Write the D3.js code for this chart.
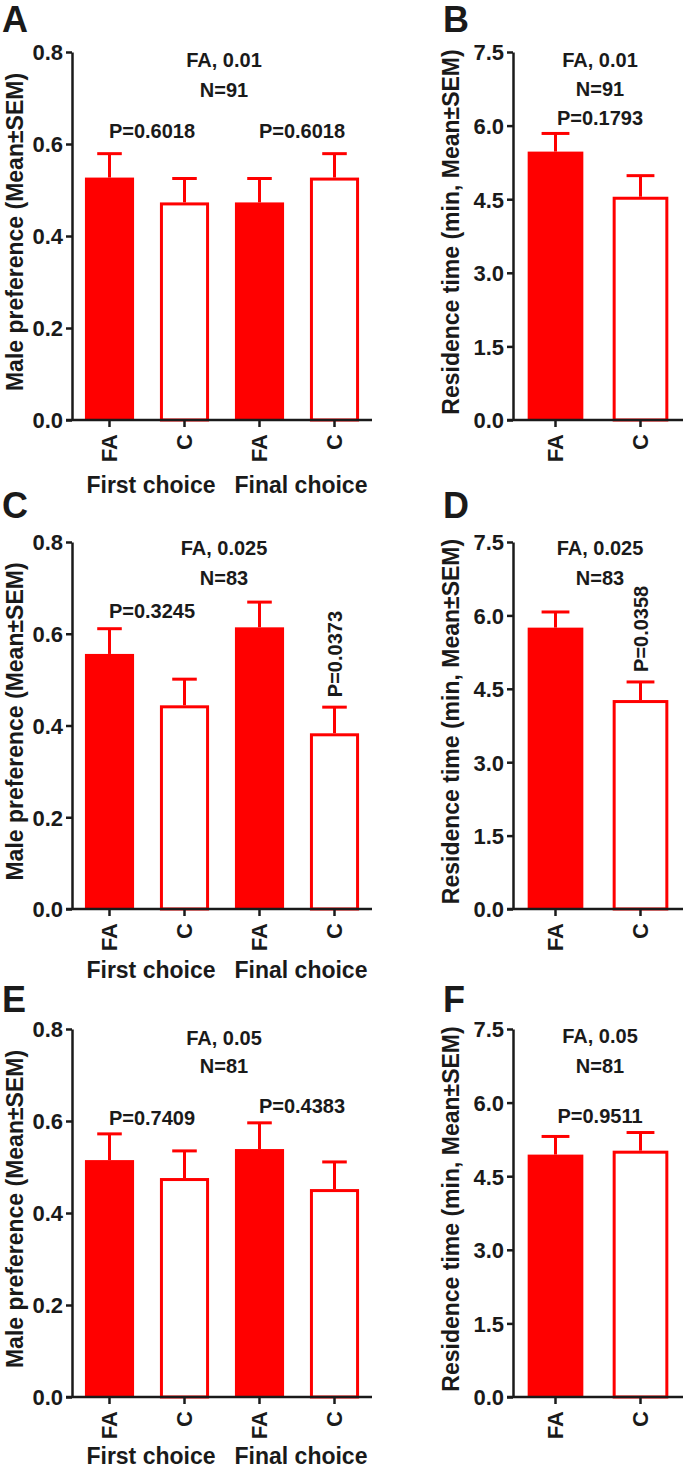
<!DOCTYPE html>
<html><head><meta charset="utf-8">
<script src="https://cdn.jsdelivr.net/npm/d3@7"></script>
<style>
body{margin:0;background:#fff;}
svg text{font-family:"Liberation Sans",Arial,sans-serif;font-weight:bold;fill:#1a1a1a;}
</style></head><body>
<svg id="chart" width="685" height="1468"></svg>
<script>
// ---------- data ----------
const prefCategories = ["FA","C","FA","C"];
const prefGroups = ["First choice","Final choice"];
const timeCategories = ["FA","C"];
const prefTicks = [0,0.2,0.4,0.6,0.8];
const timeTicks = [0,1.5,3.0,4.5,6.0,7.5];
const prefTitle = "Male preference (Mean\u00B1SEM)";
const timeTitle = "Residence time (min, Mean\u00B1SEM)";

const concLabels = ["FA, 0.01","FA, 0.025","FA, 0.05"];
const nLabels = ["N=91","N=83","N=81"];

const prefMeanA = [0.527,0.473,0.473,0.527];
const prefSemA  = [0.052,0.052,0.052,0.052];
const prefPA    = ["P=0.6018","P=0.6018"];
const timeMeanB = [5.47,4.55];
const timeSemB  = [0.37,0.43];
const timePB    = "P=0.1793";

const prefMeanC = [0.556,0.444,0.614,0.383];
const prefSemC  = [0.055,0.057,0.055,0.057];
const prefPC    = ["P=0.3245","P=0.0373"];
const timeMeanD = [5.75,4.27];
const timeSemD  = [0.32,0.37];
const timePD    = "P=0.0358";

const prefMeanE = [0.515,0.476,0.539,0.452];
const prefSemE  = [0.057,0.059,0.057,0.059];
const prefPE    = ["P=0.7409","P=0.4383"];
const timeMeanF = [4.94,5.02];
const timeSemF  = [0.37,0.37];
const timePF    = "P=0.9511";

// ---------- layout ----------
const RED = "#ff0000";
const svg = d3.select("#chart");
const rows = [{top:52,bot:420,letterY:32},{top:542,bot:909,letterY:518},{top:1029,bot:1397,letterY:1012}];

function drawPanel(o){
  const g = svg.append("g");
  const x = d3.scaleBand().domain(d3.range(o.cats.length)).range([o.x0,o.x1]).paddingInner(0.345).paddingOuter(0.1725);
  const y = d3.scaleLinear().domain([0,o.max]).range([o.row.bot,o.row.top]);
  const bw = x.bandwidth();
  // bars
  o.means.forEach((m,i)=>{
    const filled = o.cats[i]==="FA";
    const bx = x(i);
    const e = y(m+o.sems[i]);
    g.append("line").attr("x1",bx+bw/2).attr("x2",bx+bw/2).attr("y1",y(m)).attr("y2",e)
      .attr("stroke",RED).attr("stroke-width",3);
    g.append("line").attr("x1",bx+bw/4).attr("x2",bx+3*bw/4).attr("y1",e).attr("y2",e)
      .attr("stroke",RED).attr("stroke-width",3);
    if(filled){
      g.append("rect").attr("x",bx).attr("y",y(m)).attr("width",bw).attr("height",y(0)-y(m)).attr("fill",RED);
    } else {
      g.append("rect").attr("x",bx+1.5).attr("y",y(m)+1.5).attr("width",bw-3).attr("height",y(0)-y(m)-1.5)
        .attr("fill","#fff").attr("stroke",RED).attr("stroke-width",3);
    }
  });
  // y axis
  const ya = g.append("g").attr("transform",`translate(${o.x0},0)`)
    .call(d3.axisLeft(y).tickValues(o.ticks).tickFormat(d3.format(".1f")).tickSize(6).tickSizeOuter(0).tickPadding(3));
  ya.select(".domain").attr("stroke","#1a1a1a").attr("stroke-width",2.5);
  ya.selectAll(".tick line").attr("stroke","#1a1a1a").attr("stroke-width",2.5);
  ya.selectAll(".tick text").style("font-size","22px").attr("dy","0.36em").attr("fill","#1a1a1a");
  // x axis
  const xa = g.append("g").attr("transform",`translate(0,${o.row.bot})`)
    .call(d3.axisBottom(x).tickSize(7).tickSizeOuter(0).tickFormat(()=>""));
  xa.select(".domain").attr("stroke","#1a1a1a").attr("stroke-width",2.5)
    .attr("d",`M${o.x0-6},0H${o.x1}`);
  xa.selectAll(".tick line").attr("stroke","#1a1a1a").attr("stroke-width",2.5);
  o.cats.forEach((c,i)=>{
    const cx = x(i)+bw/2;
    g.append("text").attr("transform",`translate(${cx},${o.row.bot+14}) rotate(-90)`)
      .attr("text-anchor","end").attr("dy","0.36em").style("font-size","22px").text(c);
  });
  if(o.groups){
    o.groups.forEach((gl,k)=>{
      const cx = (x(2*k)+x(2*k+1)+bw)/2 + 4;
      g.append("text").attr("x",cx).attr("y",o.row.bot+o.groupDy).attr("text-anchor","middle")
        .style("font-size","23px").text(gl);
    });
  }
  // y title
  g.append("text").attr("transform",`translate(${o.titleX},${(o.row.top+o.row.bot)/2-4}) rotate(-90)`)
    .attr("text-anchor","middle").style("font-size","23px").text(o.title);
  // panel letter
  g.append("text").attr("x",o.letterX).attr("y",o.row.letterY).style("font-size","36px").text(o.letter);
  // header
  const mid = (o.x0+o.x1)/2+2;
  g.append("text").attr("x",mid).attr("y",o.row.top+o.h1).attr("text-anchor","middle").style("font-size","20px").text(o.conc);
  g.append("text").attr("x",mid).attr("y",o.row.top+o.h2).attr("text-anchor","middle").style("font-size","20px").text(o.n);
  // p labels
  o.pLabels.forEach(p=>{
    if(p.rot){
      const i = p.bar;
      const cx = x(i)+bw/2;
      const ey = y(o.means[i]+o.sems[i]) - 10;
      g.append("text").attr("transform",`translate(${cx},${ey}) rotate(-90)`)
        .attr("text-anchor","start").attr("dy","0.36em").style("font-size","20px").text(p.text);
    } else {
      const a = p.bars[0], b = p.bars[p.bars.length-1];
      const cx = (x(a)+x(b)+bw)/2 + (o.groups?5:2);
      g.append("text").attr("x",cx).attr("y",o.row.top+p.dy).attr("text-anchor","middle").style("font-size","20px").text(p.text);
    }
  });
}

const L = {x0:72,x1:372,titleX:23,letterX:2};
const R = {x0:513,x1:683,titleX:459,letterX:443};

drawPanel({...L,row:rows[0],cats:prefCategories,groups:prefGroups,groupDy:73,means:prefMeanA,sems:prefSemA,max:0.8,ticks:prefTicks,
  title:prefTitle,letter:"A",conc:concLabels[0],n:nLabels[0],h1:15,h2:45,
  pLabels:[{text:prefPA[0],bars:[0,1],dy:86},{text:prefPA[1],bars:[2,3],dy:86}]});
drawPanel({...R,row:rows[0],cats:timeCategories,means:timeMeanB,sems:timeSemB,max:7.5,ticks:timeTicks,
  title:timeTitle,letter:"B",conc:concLabels[0],n:nLabels[0],h1:15,h2:44,
  pLabels:[{text:timePB,bars:[0,1],dy:73}]});
drawPanel({...L,row:rows[1],cats:prefCategories,groups:prefGroups,groupDy:69,means:prefMeanC,sems:prefSemC,max:0.8,ticks:prefTicks,
  title:prefTitle,letter:"C",conc:concLabels[1],n:nLabels[1],h1:13,h2:43,
  pLabels:[{text:prefPC[0],bars:[0,1],dy:76},{text:prefPC[1],rot:true,bar:3}]});
drawPanel({...R,row:rows[1],cats:timeCategories,means:timeMeanD,sems:timeSemD,max:7.5,ticks:timeTicks,
  title:timeTitle,letter:"D",conc:concLabels[1],n:nLabels[1],h1:13,h2:43,
  pLabels:[{text:timePD,rot:true,bar:1}]});
drawPanel({...L,row:rows[2],cats:prefCategories,groups:prefGroups,groupDy:67,means:prefMeanE,sems:prefSemE,max:0.8,ticks:prefTicks,
  title:prefTitle,letter:"E",conc:concLabels[2],n:nLabels[2],h1:16,h2:44,
  pLabels:[{text:prefPE[0],bars:[0,1],dy:96},{text:prefPE[1],bars:[2,3],dy:84}]});
drawPanel({...R,row:rows[2],cats:timeCategories,means:timeMeanF,sems:timeSemF,max:7.5,ticks:timeTicks,
  title:timeTitle,letter:"F",conc:concLabels[2],n:nLabels[2],h1:14,h2:44,
  pLabels:[{text:timePF,bars:[0,1],dy:94}]});
</script>
</body></html>
